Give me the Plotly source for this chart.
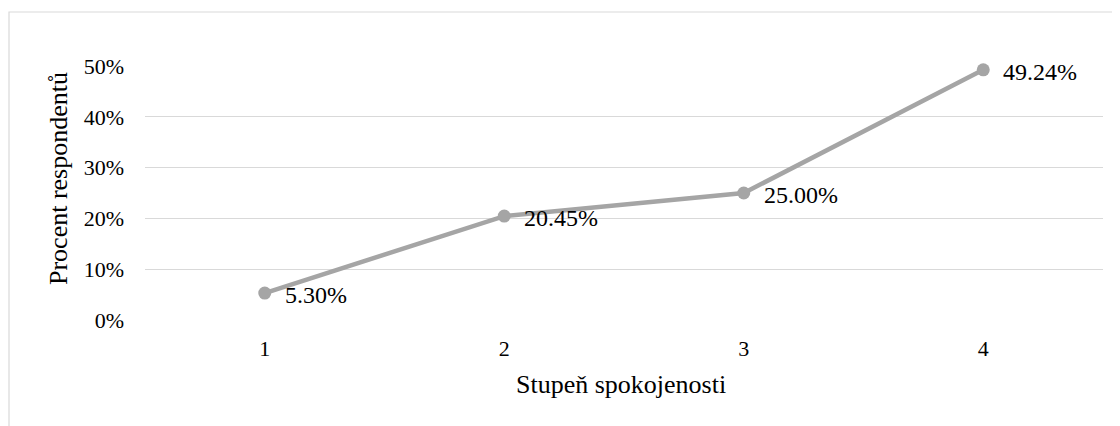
import plotly.graph_objects as go

categories = [1, 2, 3, 4]
values = [0.0530, 0.2045, 0.2500, 0.4924]
labels = ["5.30%", "20.45%", "25.00%", "49.24%"]
y_ticks = [0, 0.1, 0.2, 0.3, 0.4, 0.5]
y_tick_text = ["0%", "10%", "20%", "30%", "40%", "50%"]
x_title = "Stupeň spokojenosti"
y_title = "Procent respondentů"

FONT = "Liberation Serif"
LINE_COLOR = "#A5A5A5"

W, H = 1120, 426
OFF = 8  # page body margin
# plot area in page pixels
PL, PR, PT, PB = 145, 1103, 66, 320
L = PL - OFF
T = PT - OFF
R = W - (PR - OFF)
B = H - (PB - OFF)


def px_x(p):
    return (p - PL) / (PR - PL)


def px_y(p):
    return (PB - p) / (PB - PT)


fig = go.Figure()
fig.add_trace(go.Scatter(
    x=categories, y=values, mode="lines+markers",
    line=dict(color=LINE_COLOR, width=4.5),
    marker=dict(color=LINE_COLOR, size=13),
    cliponaxis=False, showlegend=False, hoverinfo="x+y",
))

for c, v, t in zip(categories, values, labels):
    fig.add_annotation(x=c, y=v, text=t, showarrow=False,
                       xanchor="left", yanchor="middle", xshift=18, yshift=-2,
                       font=dict(family=FONT, size=24, color="#000000"))

fig.add_annotation(xref="paper", yref="paper", x=px_x(58), y=px_y(179),
                   text=y_title, textangle=-90, showarrow=False,
                   xanchor="center", yanchor="middle",
                   font=dict(family=FONT, size=26, color="#000000"))
fig.add_annotation(xref="paper", yref="paper", x=px_x(621), y=px_y(384),
                   text=x_title, showarrow=False,
                   xanchor="center", yanchor="middle",
                   font=dict(family=FONT, size=26, color="#000000"))

fig.add_shape(type="rect", xref="paper", yref="paper",
              x0=px_x(9), x1=px_x(1300), y0=px_y(600), y1=px_y(12),
              line=dict(color="#D9D9D9", width=1.2), layer="below")

fig.update_layout(
    width=W, height=H,
    margin=dict(l=L, r=R, t=T, b=B),
    paper_bgcolor="white", plot_bgcolor="white",
    font=dict(family=FONT, size=22, color="#000000"),
    xaxis=dict(
        range=[0.5, 4.5], tickvals=categories, ticktext=[str(c) for c in categories],
        showgrid=False, zeroline=False, showline=False,
        ticklabelstandoff=13,
        tickfont=dict(family=FONT, size=22),
    ),
    yaxis=dict(
        range=[0, 0.5], tickvals=y_ticks, ticktext=y_tick_text,
        showgrid=True, gridcolor="#D9D9D9", gridwidth=1.3,
        zeroline=False, showline=False,
        ticklabelstandoff=20,
        tickfont=dict(family=FONT, size=22),
    ),
)

fig.write_html("out.html")
